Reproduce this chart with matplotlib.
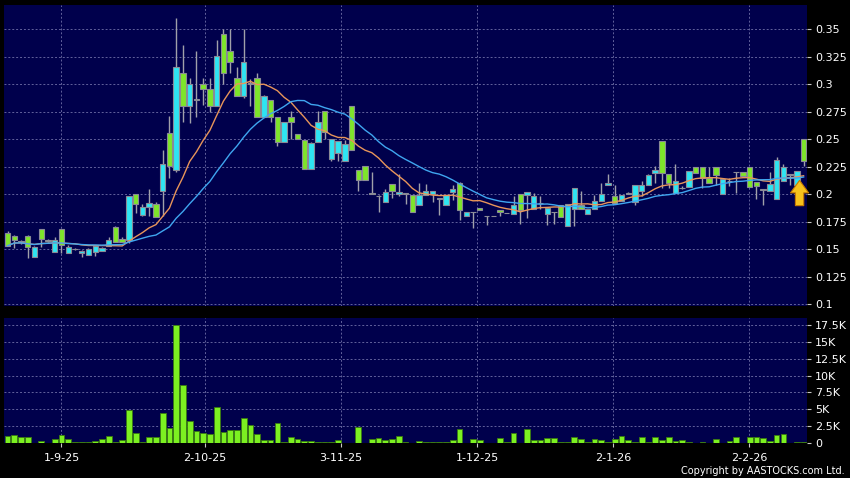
import numpy as np
import pandas as pd
import matplotlib
matplotlib.use("Agg")
import matplotlib.pyplot as plt

opens = [.165, .162, .157, .162, .143, .168, .158, .147, .168, .1465,
         .150, .1465, .145, .1475, .1485, .153, .170, .159, .1585, .200,
         .1806, .188, .191, .2024, .2555, .2215, .310, .2803, .2865, .300,
         .2955, .2803, .3455, .330, .3055, .2894, .301, .3055, .2697, .2852,
         .2697, .247, .270, .2548, .2488, .2227, .247, .2752, .2318, .2373,
         .2297, .2797, .2221, .2252, .2005, .198, .1927, .209, .200, .2005,
         .1988, .1897, .1994, .2003, .1958, .1897, .2018, .210, .1797, .1837,
         .1873, .1797, .1797, .1852, .1828, .1821, .2003, .1994, .1864, .1918,
         .1818, .1836, .1897, .1712, .1864, .1897, .1818, .1864, .1933, .2079,
         .1979, .1933, .2003, .1924, .2024, .2085, .2191, .2479, .2185, .2009,
         .2057, .2064, .2245, .2245, .2145, .2251, .2003, .2121, .2197, .2197,
         .2245, .2106, .204, .2024, .1955, .2121, .2176, .2085, .250]
highs = [.166, .163, .158, .163, .153, .168, .159, .161, .168, .154,
         .151, .149, .151, .153, .152, .161, .171, .161, .198, .200,
         .191, .2045, .193, .240, .2706, .360, .336, .3055, .330, .3055,
         .3055, .340, .350, .350, .316, .350, .305, .310, .290, .286,
         .270, .266, .276, .255, .249, .247, .2752, .2752, .250, .248,
         .249, .280, .222, .2252, .220, .199, .2045, .209, .218, .201,
         .199, .210, .209, .2024, .196, .199, .2085, .211, .1836, .1837,
         .1873, .180, .180, .1852, .1828, .198, .2003, .2018, .201, .198,
         .188, .184, .190, .1912, .2055, .203, .1864, .1994, .210, .2185,
         .2079, .1988, .2015, .2079, .2121, .218, .226, .2479, .2185, .2276,
         .207, .2212, .2245, .2245, .225, .2251, .2136, .2145, .220, .2197,
         .2245, .2106, .204, .220, .2333, .2276, .2185, .2206, .250]
lows = [.153, .151, .155, .142, .143, .152, .156, .147, .146, .146,
        .149, .1425, .145, .144, .148, .153, .156, .156, .1555, .183,
        .180, .1805, .179, .180, .2145, .220, .266, .265, .2705, .281,
        .275, .280, .300, .310, .289, .287, .280, .2697, .2697, .266,
        .244, .247, .250, .250, .2227, .2227, .247, .250, .2297, .2297,
        .2297, .240, .2024, .2124, .200, .1833, .1927, .1964, .198, .191,
        .1833, .1897, .1994, .1924, .1812, .1897, .1948, .1767, .1797, .169,
        .1852, .1721, .1797, .1797, .1827, .182, .1727, .1782, .1864, .186,
        .1721, .1727, .1791, .1712, .1706, .1867, .1818, .1864, .1933, .2079,
        .1918, .1933, .200, .190, .1985, .2085, .210, .2055, .206, .2009,
        .205, .2064, .219, .2055, .210, .2085, .2003, .207, .2009, .2167,
        .2064, .1958, .1897, .2024, .1955, .2121, .2079, .2085, .2252]
closes = [.153, .158, .156, .152, .152, .159, .157, .1585, .154, .1515,
          .150, .1485, .150, .1524, .151, .1585, .156, .1565, .198, .191,
          .188, .192, .179, .2273, .226, .3155, .280, .300, .2855, .2955,
          .280, .3258, .310, .320, .2894, .320, .300, .2697, .2894, .2697,
          .247, .2652, .2652, .250, .2227, .2464, .2652, .2561, .250, .2479,
          .2458, .2403, .2124, .2124, .2003, .198, .2015, .2024, .2018, .2003,
          .1833, .1988, .2024, .2024, .1958, .1988, .2045, .1858, .1836, .1836,
          .1852, .1797, .1797, .1833, .1827, .1897, .1852, .2018, .1979, .1918,
          .1873, .1836, .1791, .1912, .2055, .1867, .1864, .1933, .2003, .210,
          .1918, .1988, .2003, .2079, .2079, .217, .2215, .2191, .210, .2115,
          .2055, .2212, .2191, .2145, .210, .217, .2136, .212, .2197, .2167,
          .2064, .207, .2039, .2094, .2312, .2245, .2176, .2206, .2297]
volumes_k = [1.0, 1.2, 0.95, 0.9, 0.05, 0.3, 0.05, 0.55, 1.2, 0.6,
             0.15, 0.15, 0.2, 0.25, 0.6, 1.1, 0.2, 0.5, 4.9, 1.5,
             0.15, 0.95, 0.95, 4.4, 2.2, 17.5, 8.6, 3.2, 1.8, 1.5,
             1.4, 5.3, 1.7, 2.0, 1.9, 3.7, 2.7, 1.4, 0.4, 0.4,
             2.9, 0.15, 0.9, 0.65, 0.35, 0.35, 0.2, 0.2, 0.1, 0.5,
             0.05, 0.05, 2.4, 0.05, 0.6, 0.8, 0.4, 0.6, 1.1, 0.15,
             0.05, 0.3, 0.15, 0.15, 0.15, 0.15, 0.5, 2.1, 0.05, 0.6,
             0.4, 0.05, 0.05, 0.75, 0.1, 1.5, 0.05, 2.1, 0.5, 0.5,
             0.7, 0.75, 0.15, 0.15, 0.95, 0.65, 0.15, 0.6, 0.5, 0.15,
             0.6, 1.1, 0.5, 0.15, 0.95, 0.2, 0.9, 0.4, 0.95, 0.25,
             0.4, 0.2, 0.03, 0.2, 0.03, 0.6, 0.03, 0.35, 0.85, 0.03,
             0.85, 0.9, 0.7, 0.3, 1.2, 1.3, 0.03, 0.15, 0.15]

date_labels = ["1-9-25", "2-10-25", "3-11-25", "1-12-25", "2-1-26", "2-2-26"]
date_pos = [8.0, 29.3, 49.4, 69.6, 89.8, 109.9]
price_ticks = [0.1, 0.125, 0.15, 0.175, 0.2, 0.225, 0.25, 0.275, 0.3, 0.325, 0.35]
price_tick_labels = ["0.1", "0.125", "0.15", "0.175", "0.2", "0.225", "0.25",
                     "0.275", "0.3", "0.325", "0.35"]
vol_ticks = [0, 2500, 5000, 7500, 10000, 12500, 15000, 17500]
vol_tick_labels = ["0", "2.5K", "5K", "7.5K", "10K", "12.5K", "15K", "17.5K"]

o = np.array(opens); h = np.array(highs); l = np.array(lows); c = np.array(closes)
vol = np.array(volumes_k) * 1000
x = np.arange(len(c))
ma10 = pd.Series(c).rolling(10, min_periods=1).mean()
ma20 = pd.Series(c).rolling(20, min_periods=1).mean()

BG = "#00004c"
GRID = "#62629c"
UP = "#2ee4f2"
DOWN = "#7ee52a"

fig = plt.figure(figsize=(8.5, 4.78), dpi=100, facecolor="black")
ax1 = fig.add_axes([0.0047, 0.3598, 0.9447, 0.6297])
ax2 = fig.add_axes([0.0047, 0.0732, 0.9447, 0.2615])

for ax in (ax1, ax2):
    ax.set_facecolor(BG)
    for s in ax.spines.values():
        s.set_visible(False)
    ax.grid(True, color=GRID, linestyle=(0, (2, 2)), linewidth=0.7)
    ax.set_axisbelow(True)
    ax.yaxis.tick_right()
    ax.tick_params(axis="y", colors="#c8c8c8", labelcolor="white", labelsize=8,
                   length=3, width=0.8, pad=3, direction="out")
    ax.set_xlim(-0.52, 118.5)
    ax.set_xticks(date_pos)

# candles
ax1.vlines(x, l, h, color="#a0a0aa", linewidth=1.0, zorder=2)
body_bottom = np.minimum(o, c)
body_h = np.maximum(np.abs(c - o), 0.0003)
colors = [UP if cc >= oo else DOWN for oo, cc in zip(o, c)]
ax1.bar(x, body_h, bottom=body_bottom, width=0.8, color=colors,
        edgecolor="#8a8a96", linewidth=0.8, zorder=3)
ax1.plot(x, ma10, color="#e8955a", linewidth=1.0, zorder=4)
ax1.plot(x, ma20, color="#3fa6f0", linewidth=1.0, zorder=4)
ax1.set_ylim(0.0982, 0.372)
ax1.set_yticks(price_ticks)
ax1.set_yticklabels(price_tick_labels)
ax1.tick_params(axis="x", length=0, labelbottom=False)

ax1.annotate("", xy=(117.4, 0.2125), xytext=(117.4, 0.1895),
             arrowprops=dict(arrowstyle="simple,head_width=1.3,head_length=0.9,tail_width=0.6",
                             facecolor="#f7c21c", edgecolor="#c97a00", linewidth=0.8,
                             shrinkA=0, shrinkB=0),
             zorder=5)

# volume
ax2.bar(x, vol, width=0.85, color="#7cf021", edgecolor="#3a7a10", linewidth=0.6, zorder=3)
ax2.set_ylim(0, 18540)
ax2.set_yticks(vol_ticks)
ax2.set_yticklabels(vol_tick_labels)
ax2.set_xticklabels(date_labels)
ax2.tick_params(axis="x", colors="#c8c8c8", labelcolor="white", labelsize=8,
                length=3, width=0.8, pad=4, direction="out")

fig.text(0.994, 0.004, "Copyright by AASTOCKS.com Ltd.", ha="right", va="bottom",
         color="white", fontsize=7)

fig.savefig("out.png", dpi=100, facecolor="black")
